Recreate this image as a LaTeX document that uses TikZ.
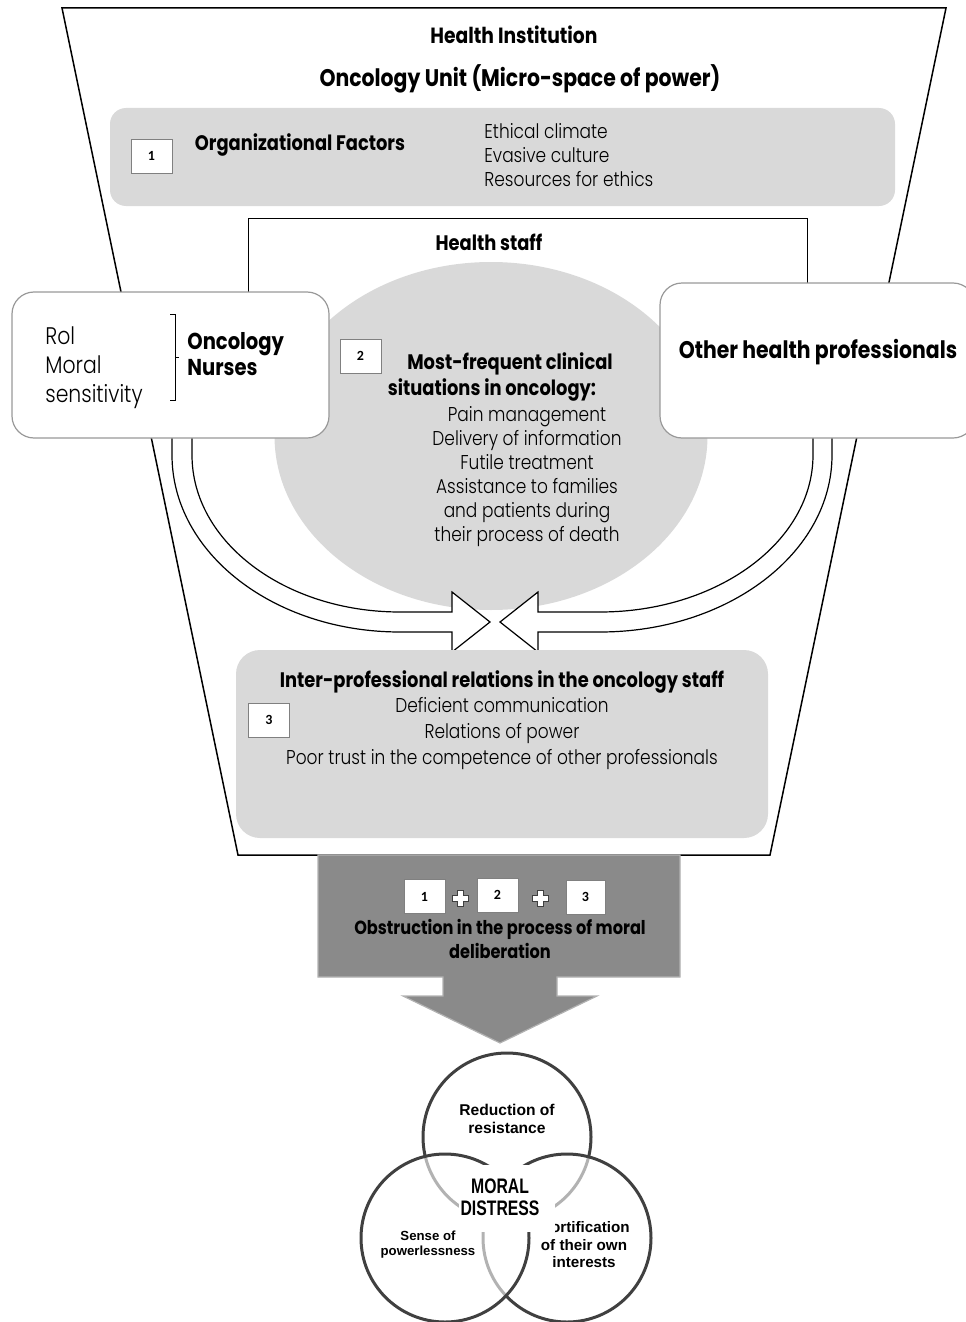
\documentclass[tikz,border=0pt]{standalone}
\usepackage{fontspec}
\setmainfont{Poppins}[FakeStretch=0.85]
\newfontfamily\litefont{Poppins Light}[FakeStretch=0.85]
\newfontfamily\venfont{Liberation Sans}
\newfontfamily\numfont{Carlito}
\usetikzlibrary{positioning,shapes.geometric}
\definecolor{panel}{RGB}{217,217,217}
\definecolor{dark}{RGB}{138,138,138}
\definecolor{rim}{RGB}{64,64,64}
\begin{document}
\begin{tikzpicture}[x=0.5pt,y=-0.5pt,
numbox/.style={draw=gray,fill=white,minimum width=20.5pt,minimum height=17pt,inner sep=0pt,font=\numfont\bfseries\fontsize{7}{8}\selectfont},
head/.style={font=\bfseries\fontsize{10.5}{12.5}\selectfont,inner sep=1pt},
items/.style={font=\litefont\fontsize{10}{12}\selectfont,inner sep=1pt},
whitebox/.style={draw=gray!80,fill=white,rounded corners=11pt,line width=0.6pt},
hollow/.style={draw=black,fill=white,line width=0.6pt},
venn/.style={circle,draw=rim,line width=1.5pt,fill=white,fill opacity=0.6,minimum size=84pt},
plusmark/.style={draw=rim,fill=white,line width=0.4pt}]
\useasboundingbox (0,0) rectangle (965,1322);
% funnel of the institution
\draw[line width=0.75pt] (62,8)coordinate(ftl) -- (946,8)coordinate(ftr) -- (770,855)coordinate(fbr) -- (238,855)coordinate(fbl) -- cycle;
\node[head,font=\bfseries\fontsize{11}{13}\selectfont] (inst) at (514,35) {Health Institution};
\node[head,font=\bfseries\fontsize{12}{13}\selectfont] (unit) at (520,79) {Oncology Unit (Micro-space of power)};
% 1: organizational factors
\node[fill=panel,rounded corners=8pt,minimum width=392.5pt,minimum height=49pt] (org) at (502.5,157) {};
\node[numbox] (n1) at (151.5,156) {1};
\node[head] (orgt) at (300,145) {Organizational Factors};
\node[items,align=left,anchor=west] (orgl) at (482,155) {Ethical climate\\Evasive culture\\Resources for ethics};
% health staff
\node[draw,line width=0.5pt,minimum width=279.5pt,minimum height=91pt] (staff) at (527.5,309) {};
\node[head] (stafft) at (489,242) {Health staff};
\node[ellipse,fill=panel,minimum width=216.5pt,minimum height=174pt] (clin) at (491,436) {};
% hollow arrows
\draw[hollow] (172,430) -- (172,455) .. controls (172,553) and (274,632) .. (400,632) -- (452,632) -- (452,652) -- (490,622)coordinate(tipl) -- (452,592) -- (452,612) -- (400,612) .. controls (285,612) and (192,542) .. (192,455) -- (192,430);
\draw[hollow] (832,430) -- (832,455) .. controls (832,553) and (728,632) .. (600,632) -- (538,632) -- (538,652) -- (500,622)coordinate(tipr) -- (538,592) -- (538,612) -- (600,612) .. controls (717,612) and (813,542) .. (813,455) -- (813,430);
% nurses and others
\node[whitebox,minimum width=158.5pt,minimum height=73pt] (nurse) at (170.5,365) {};
\node[font=\litefont\fontsize{12}{14.5}\selectfont,align=left,anchor=west,inner sep=0pt] (nursel) at (45,368) {Rol\\Moral\\sensitivity};
\draw[line width=0.4pt] (170,314) -- (175,314) -- (175,400) -- (170,400) (175,357) -- (179,357);
\node[head,font=\bfseries\fontsize{11.5}{13}\selectfont,align=left,anchor=west] (nurset) at (185,354) {Oncology\\Nurses};
\node[whitebox,minimum width=157.5pt,minimum height=77.5pt] (other) at (817.5,360.5) {};
\node[head,font=\bfseries\fontsize{12}{14}\selectfont] (othert) at (818,352) {Other health professionals};
% 2: clinical situations
\node[numbox] (n2) at (360.5,356) {2};
\node[head] (clint1) at (510,364) {Most-frequent clinical};
\node[head] (clint2) at (492,390) {situations in oncology:};
\node[items,align=center] (clinl) at (527,477) {Pain management\\Delivery of information\\Futile treatment\\Assistance to families\\and patients during\\their process of death};
% 3: inter-professional relations
\node[fill=panel,rounded corners=12pt,minimum width=266pt,minimum height=94pt] (rel) at (502,744) {};
\node[numbox] (n3) at (269,720) {3};
\node[head] (relt) at (502,682) {Inter-professional relations in the oncology staff};
\node[items,font=\litefont\fontsize{10}{13}\selectfont,align=center] (rell) at (502,734) {Deficient communication\\Relations of power\\Poor trust in the competence of other professionals};
% obstruction
\draw[fill=dark,draw=gray!60,line width=0.6pt] (318,855) -- (680,855) -- (680,977) -- (557,977) -- (557,996) -- (597,996) -- (500,1043)coordinate(obtip) -- (403,996) -- (443,996) -- (443,977) -- (318,977) -- cycle;
\node[numbox] (m1) at (424.5,896.5) {1};
\node[numbox] (m2) at (497.5,895) {2};
\node[numbox,minimum width=19.5pt] (m3) at (585.5,897) {3};
\foreach \px in {460,540}
  \draw[plusmark,shift={(\px,898)}] (-3,-8) -- (3,-8) -- (3,-3) -- (8,-3) -- (8,3) -- (3,3) -- (3,8) -- (-3,8) -- (-3,3) -- (-8,3) -- (-8,-3) -- (-3,-3) -- cycle;
\node[head,font=\bfseries\fontsize{9.5}{12}\selectfont,align=center] (obst) at (500,939) {Obstruction in the process of moral\\deliberation};
% moral distress
\node[venn] (vtop) at (507,1137) {};
\node[venn] (vright) at (567,1238) {};
\node[venn] (vleft) at (445,1238) {};
\node[font=\venfont\bfseries\fontsize{7.8}{9}\selectfont,align=center] (vtopt) at (507,1119) {Reduction of\\resistance};
\node[font=\venfont\bfseries\fontsize{6.6}{7.5}\selectfont,align=center] (vleftt) at (428,1245) {Sense of\\powerlessness};
\node[font=\venfont\bfseries\fontsize{7.6}{8.75}\selectfont,align=center] (vrightt) at (584,1245) {Mortification\\of their own\\interests};
\node[fill=white,minimum width=48pt,minimum height=33.5pt,inner sep=0pt] (md) at (507,1198) {};
\node[align=center,inner sep=0pt,font=\venfont\bfseries\fontsize{10.5}{11}\selectfont] (mdt) at (500,1197) {\addfontfeature{FakeStretch=0.75}MORAL\\\addfontfeature{FakeStretch=0.75}DISTRESS};
\end{tikzpicture}
\end{document}
